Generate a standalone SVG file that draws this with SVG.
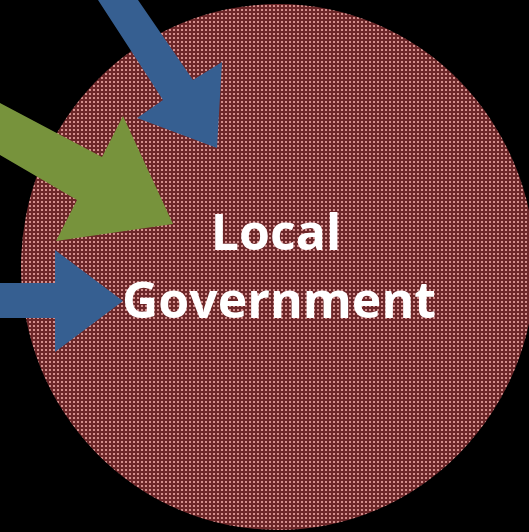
<svg xmlns="http://www.w3.org/2000/svg" width="529" height="532" viewBox="0 0 529 532">
  <defs>
    <pattern id="dots" width="4" height="4" patternUnits="userSpaceOnUse">
      <rect width="4" height="4" fill="#6d2729"/>
      <rect x="1" y="1" width="2" height="2" fill="#d38e8c"/>
    </pattern>
    <style>
      .label { font-family: "Open Sans", "Liberation Sans", sans-serif; font-weight: 700; font-size: 50px; fill: #ffffff; text-anchor: middle; }
      .blue { fill: #365f91; }
      .green { fill: #77933c; }
    </style>
  </defs>
  <rect width="529" height="532" fill="#000000"/>
  <g id="local-government">
    <ellipse cx="278" cy="267" rx="257" ry="263" fill="url(#dots)"/>
    <text class="label" x="276" y="250">Local</text>
    <text class="label" x="279" y="318">Government</text>
  </g>
  <g id="connectors">
    <polygon class="green" points="0,103 102,157 123,116 173,224 56,241 77,200 0,155"/>
    <polygon class="blue" points="98,0 138,0 193,80 222,62 217,148 137,118 163,100 98,0"/>
    <polygon class="blue" points="0,283 55,283 55,250 123,301 55,352 55,318 0,318"/>
  </g>
</svg>
